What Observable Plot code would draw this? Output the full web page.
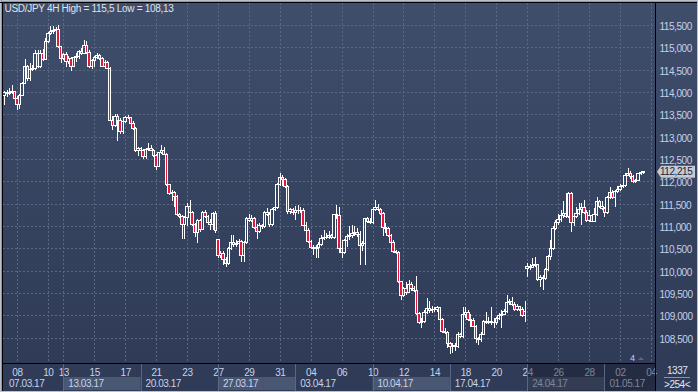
<!DOCTYPE html>
<html><head><meta charset="utf-8">
<script src="https://cdn.jsdelivr.net/npm/d3@7"></script>
<script src="https://cdn.jsdelivr.net/npm/@observablehq/plot@0.6"></script>
<style>
html,body{margin:0;padding:0;background:#2f3b57;}
#chart{width:698px;height:392px;overflow:hidden}
</style></head><body><div id="chart"></div>
<script>
// ---- data: USD/JPY 4H candles (07.03.17 04:00 -> 03.05.17 08:00) ----
const open = [
113.93,113.99,113.96,114.00,114.01,113.86,113.71,113.93,114.19,114.57,
114.31,114.51,114.53,114.87,114.57,114.87,114.73,115.13,115.31,115.35,
115.37,115.39,115.02,114.75,114.85,114.68,114.75,114.58,114.78,114.79,
114.90,114.87,115.05,114.88,114.57,114.70,114.78,114.81,114.75,114.58,
114.66,114.53,113.37,113.24,113.46,113.37,113.11,113.34,113.43,113.42,
113.30,113.19,112.70,112.73,112.69,112.55,112.72,112.73,112.70,112.57,
112.34,112.64,112.70,112.61,111.92,111.73,111.75,111.66,111.25,111.22,
111.04,111.19,111.43,111.30,111.04,110.85,111.12,110.93,111.30,111.22,
111.07,111.04,111.27,110.69,110.34,110.39,110.26,110.16,110.50,110.63,
110.58,110.61,110.66,110.34,110.63,111.16,111.13,111.17,110.96,110.87,
111.01,110.98,111.31,111.26,111.04,111.36,111.41,111.92,112.08,112.05,
111.89,111.32,111.37,111.31,111.34,111.35,111.34,111.02,110.91,110.65,
110.52,110.49,110.52,110.58,110.71,110.75,110.74,110.78,110.74,111.26,
111.23,110.50,110.41,110.68,110.76,110.78,110.84,110.86,110.80,110.56,
110.60,111.16,111.11,111.08,111.38,111.41,111.38,111.28,110.96,110.95,
110.78,110.63,110.42,110.41,109.75,109.44,109.59,109.52,109.68,109.59,
109.56,109.05,108.84,108.87,109.07,109.15,109.10,109.14,109.12,109.18,
108.90,108.64,108.62,108.36,108.30,108.33,108.30,108.57,108.52,109.03,
109.06,108.91,108.88,108.76,108.48,108.45,108.58,108.87,108.85,108.87,
108.85,108.84,108.93,108.99,109.03,109.08,109.28,109.30,109.25,109.14,
109.19,109.12,108.99,110.05,110.09,110.08,110.11,110.14,109.81,109.85,
109.82,110.02,110.31,110.50,110.95,111.08,111.14,111.24,111.27,111.22,
111.72,111.08,111.22,111.28,111.37,111.42,111.30,111.12,111.24,111.10,
111.25,111.54,111.43,111.40,111.30,111.64,111.76,111.64,111.78,111.82,
111.88,111.91,112.14,112.18,112.11,112.00,112.02,112.17,112.19];
const high = [
114.03,114.05,114.08,114.16,114.03,113.91,113.96,114.23,114.75,114.60,
114.64,114.60,114.94,114.93,114.94,114.96,115.20,115.35,115.48,115.48,
115.46,115.50,115.03,114.88,114.90,114.81,114.78,114.81,114.87,114.94,
114.98,115.16,115.15,114.93,114.73,114.81,114.87,114.84,114.78,114.72,
114.70,114.57,113.46,113.50,113.51,113.41,113.36,113.46,113.48,113.45,
113.34,113.21,112.78,112.76,112.72,112.74,112.85,112.81,112.73,112.61,
112.66,112.82,112.78,112.63,111.94,111.81,111.79,111.69,111.30,111.25,
111.22,111.51,111.58,111.33,111.07,111.15,111.15,111.33,111.36,111.25,
111.16,111.31,111.34,110.72,110.44,110.44,110.31,110.54,110.80,110.80,
110.68,110.71,110.69,110.66,111.21,111.26,111.25,111.21,111.05,111.07,
111.05,111.34,111.40,111.32,111.40,111.46,111.96,112.18,112.14,112.08,
111.92,111.41,111.40,111.44,111.46,111.43,111.40,111.08,110.95,110.69,
110.58,110.58,110.64,110.80,110.90,110.84,110.89,110.83,111.28,111.46,
111.43,110.54,110.71,110.81,110.99,111.02,110.99,110.96,110.89,110.66,
111.19,111.21,111.17,111.41,111.58,111.49,111.41,111.32,111.06,110.98,
110.81,110.68,110.46,110.44,109.78,109.64,109.75,109.79,109.74,109.66,
109.87,109.08,108.93,109.12,109.38,109.31,109.21,109.19,109.22,109.19,
108.93,108.71,108.66,108.41,108.37,108.39,108.63,108.61,109.19,109.19,
109.12,109.03,108.93,108.79,108.52,108.63,108.90,109.08,108.97,109.19,
108.93,108.97,109.05,109.12,109.14,109.46,109.36,109.42,109.30,109.25,
109.22,109.19,109.31,110.18,110.16,110.28,110.31,110.16,109.90,109.90,
110.05,110.34,110.69,110.99,111.14,111.28,111.36,111.55,111.73,111.77,
111.77,111.28,111.43,111.51,111.51,111.58,111.36,111.36,111.28,111.40,
111.66,111.58,111.55,111.43,111.67,111.88,111.81,111.81,111.90,111.93,
111.96,112.18,112.29,112.24,112.14,112.06,112.19,112.24,112.24];
const low = [
113.72,113.88,113.93,113.96,113.84,113.60,113.61,113.91,114.18,114.25,
114.25,114.48,114.49,114.53,114.53,114.70,114.72,115.10,115.28,115.30,
115.31,114.98,114.64,114.72,114.57,114.63,114.46,114.55,114.68,114.75,
114.82,114.85,114.85,114.53,114.51,114.57,114.75,114.72,114.55,114.55,
114.51,113.34,113.15,113.21,112.91,113.07,113.06,113.30,113.39,113.28,
113.16,112.66,112.57,112.64,112.51,112.51,112.69,112.67,112.54,112.25,
112.33,112.61,112.58,111.90,111.69,111.55,111.43,111.22,111.17,110.72,
110.72,111.00,111.27,111.00,110.76,110.61,110.87,110.90,111.19,111.04,
110.90,110.90,110.84,110.29,110.28,110.13,110.09,110.13,110.47,110.53,
110.52,110.53,110.19,110.20,110.60,111.08,111.10,110.93,110.72,110.84,
110.93,110.95,111.23,110.98,111.01,111.34,111.38,111.89,111.90,111.86,
111.28,111.26,111.25,111.13,111.28,111.29,110.99,110.86,110.62,110.49,
110.35,110.29,110.28,110.55,110.68,110.71,110.71,110.71,110.71,111.16,
110.39,110.28,110.37,110.52,110.68,110.74,110.78,110.76,110.13,110.43,
110.13,111.07,111.04,111.05,111.34,111.34,111.25,110.78,110.84,110.75,
110.59,110.40,110.37,109.72,109.34,109.40,109.46,109.49,109.55,109.52,
109.01,108.80,108.71,108.82,109.03,109.06,109.06,109.08,109.08,108.87,
108.60,108.58,108.26,108.13,108.15,108.21,108.26,108.49,108.49,108.93,
108.87,108.75,108.73,108.37,108.34,108.40,108.55,108.81,108.81,108.79,
108.71,108.79,108.90,108.71,109.00,109.05,109.24,109.21,109.10,109.10,
109.09,108.96,108.86,109.85,110.02,110.05,110.08,109.78,109.64,109.57,
109.79,109.99,110.24,110.46,110.91,111.02,111.09,111.19,111.19,111.19,
110.87,110.99,111.19,111.25,111.02,111.27,111.09,111.08,111.08,111.08,
111.22,111.40,111.36,111.21,111.27,111.61,111.61,111.43,111.75,111.79,
111.85,111.88,112.11,112.06,111.97,111.96,112.00,112.15,112.17];
const close = [
113.99,113.96,114.00,114.01,113.86,113.71,113.93,114.19,114.57,114.31,
114.51,114.53,114.87,114.57,114.87,114.73,115.13,115.31,115.35,115.37,
115.39,115.02,114.75,114.85,114.68,114.75,114.58,114.78,114.79,114.90,
114.87,115.05,114.88,114.57,114.70,114.78,114.81,114.75,114.58,114.66,
114.53,113.37,113.24,113.46,113.37,113.11,113.34,113.43,113.42,113.30,
113.19,112.70,112.73,112.69,112.55,112.72,112.73,112.70,112.57,112.34,
112.64,112.70,112.61,111.92,111.73,111.75,111.66,111.25,111.22,111.04,
111.19,111.43,111.30,111.04,110.85,111.12,110.93,111.30,111.22,111.07,
111.04,111.27,110.89,110.34,110.39,110.26,110.16,110.50,110.63,110.58,
110.61,110.66,110.34,110.63,111.16,111.13,111.17,110.96,110.87,111.01,
110.98,111.31,111.26,111.04,111.36,111.41,111.92,112.08,112.05,111.89,
111.32,111.37,111.31,111.34,111.35,111.34,111.02,110.91,110.65,110.52,
110.49,110.52,110.58,110.71,110.75,110.74,110.78,110.74,111.26,111.23,
110.50,110.41,110.68,110.76,110.78,110.84,110.86,110.80,110.56,110.60,
111.16,111.11,111.08,111.38,111.41,111.38,111.28,110.96,110.95,110.78,
110.63,110.42,110.41,109.75,109.44,109.59,109.52,109.68,109.59,109.56,
109.05,108.84,108.87,109.07,109.15,109.10,109.14,109.12,109.18,108.90,
108.64,108.62,108.36,108.30,108.33,108.30,108.57,108.52,109.03,109.06,
108.91,108.88,108.76,108.48,108.45,108.58,108.87,108.85,108.87,108.85,
108.84,108.93,108.99,109.03,109.08,109.28,109.30,109.25,109.14,109.19,
109.12,108.99,109.08,110.09,110.08,110.11,110.14,109.81,109.85,109.82,
110.02,110.31,110.50,110.95,111.08,111.14,111.24,111.27,111.22,111.72,
111.08,111.22,111.28,111.37,111.42,111.30,111.12,111.24,111.10,111.25,
111.54,111.43,111.40,111.30,111.64,111.76,111.64,111.78,111.82,111.88,
111.91,112.14,112.18,112.11,112.00,112.02,112.17,112.19,112.215];

const yTicks = [108.5,109,109.5,110,110.5,111,111.5,112,112.5,113,113.5,114,114.5,115,115.5];
const dayTickIndex  = [5,17,23,35,47,59,71,83,95,107,119,131,143,155,167,179,191,203,215,227,239,251];
const dayTickLabels = ["08","10","13","15","17","21","23","27","29","31","04","06","10","12","14","18","20","24","26","28","02","04"];
const weekStartIndex = [0,23,53,83,113,143,173,203,233];
const weekLabels = ["07.03.17","13.03.17","20.03.17","27.03.17","03.04.17","10.04.17","17.04.17","24.04.17","01.05.17"];
const weekHighlighted = [false,true,false,true,false,true,false,true,false];
const futureFromIndex = 203;
const titleText = "USD/JPY 4H High = 115,5 Low = 108,13";
const lastPriceLabel = "112,215";
const barCountLabel = "1337";
const rangeLabel = ">254<";
const pageLabel = "4";

// ---- build ----
const candles = close.map((c, i) => ({i, o: open[i], h: high[i], l: low[i], c}));
const dayMap = new Map(dayTickIndex.map((d, k) => [d, dayTickLabels[k]]));
const weekMap = new Map(weekStartIndex.map((d, k) => [d, weekLabels[k]]));
const fmt = v => v.toFixed(3).replace(".", ",");
const RED = "#e5173c";

const chart = Plot.plot({
  width: 698, height: 392,
  marginTop: 3, marginBottom: 29, marginLeft: 3, marginRight: 43,
  style: "background: linear-gradient(to bottom, #3f4e6b 0%, #2f3b57 92%, #2f3b57 100%); color:#c8d2e8; font-family:'Liberation Sans', Arial, sans-serif; letter-spacing:-0.45px;",
  x: {domain: [-0.39, 252.61], label: null},
  y: {domain: [107.933, 115.993], label: null},
  marks: [
    Plot.ruleY(yTicks, {stroke: "#5a6883", strokeDasharray: "2,2", shapeRendering: "crispEdges"}),
    Plot.ruleX(dayTickIndex, {stroke: "#5a6883", strokeDasharray: "2,2", shapeRendering: "crispEdges"}),
    Plot.ruleX(candles, {x: "i", y1: "h", y2: d => Math.max(d.o, d.c), stroke: "white", shapeRendering: "crispEdges"}),
    Plot.ruleX(candles, {x: "i", y1: d => Math.min(d.o, d.c), y2: "l", stroke: "white", shapeRendering: "crispEdges"}),
    Plot.rect(candles, {x1: d => d.i - 0.46, x2: d => d.i + 0.46, y1: "o", y2: "c",
      fill: d => d.c < d.o ? RED : "none", stroke: "white", shapeRendering: "crispEdges"}),
    Plot.axisY(yTicks, {anchor: "right", label: null, tickSize: 0, tickPadding: 4, tickFormat: fmt, fontSize: 10, dy: 1.4, fill: "#c6d1e8"}),
    Plot.axisX(dayTickIndex, {anchor: "bottom", label: null, tickSize: 0, tickPadding: 5, tickFormat: d => dayMap.get(d), fontSize: 10, fill: "#c8d2e8"}),
    Plot.axisX(weekStartIndex, {anchor: "bottom", label: null, tickSize: 0, tickPadding: 16, textAnchor: "start", dx: 4.5, tickFormat: d => weekMap.get(d), fontSize: 10, fill: "#c8d2e8"}),
    Plot.text([titleText], {frameAnchor: "top-left", text: d => d, dx: 1, dy: 1, textAnchor: "start", lineAnchor: "top", fill: "#dfe3ec", fontSize: 10})
  ]
});

// ---- chrome around the plot (positions from the plot's scales) ----
const svg = d3.select(chart);
svg.selectAll("text").filter(function() { return this.textContent === titleText; }).style("letter-spacing", "-0.3px");
const xs = chart.scale("x"), ys = chart.scale("y");
const X = v => xs.apply(v), Y = v => ys.apply(v);
const L = 3, R = 655, T = 3, B = 363, W = 698, H = 392;

const under = svg.insert("g", ":first-child");
under.append("rect").attr("x", 0).attr("y", B).attr("width", W).attr("height", H - B).attr("fill", "#2f3b57");
weekStartIndex.forEach((w, k) => {
  const x0 = Math.max(L, X(w));
  const x1 = k + 1 < weekStartIndex.length ? X(weekStartIndex[k + 1]) : R;
  if (weekHighlighted[k]) under.append("rect").attr("x", x0).attr("y", B + 14).attr("width", x1 - x0).attr("height", 13).attr("fill", "#4a5773");
});

const over = svg.append("g").attr("text-anchor", "start");
// dim the not-yet area in the time axis
over.append("rect").attr("x", X(futureFromIndex)).attr("y", B + 1).attr("width", R - X(futureFromIndex)).attr("height", H - B - 2)
  .attr("fill", "rgba(18,24,38,0.42)");
weekStartIndex.slice(1).forEach(w => {
  over.append("line").attr("x1", Math.round(X(w)) + 0.5).attr("x2", Math.round(X(w)) + 0.5).attr("y1", B).attr("y2", H - 1)
    .attr("stroke", "#5b6781");
});
// frame lines
const line = (x1, y1, x2, y2, c) => over.append("line").attr("x1", x1).attr("y1", y1).attr("x2", x2).attr("y2", y2).attr("stroke", c);
line(0, 0.5, W, 0.5, "#b8c0cf"); line(0, 1.5, W, 1.5, "#8d97aa");
line(0.5, 0, 0.5, H, "#b8c0cf"); line(1.5, 0, 1.5, H, "#8d97aa");
line(0, 2.5, W, 2.5, "#000"); line(2.5, 2, 2.5, H, "#000");
line(2, B + 0.5, R, B + 0.5, "#000"); line(R + 0.5, 2, R + 0.5, H, "#000");
line(0, H - 0.5, W, H - 0.5, "#b8c0cf"); line(W - 0.5, 0, W - 0.5, H, "#b8c0cf");

// last price tag
const py = Y(close[close.length - 1]);
over.append("path").attr("d", `M${R + 2},${py} L${R + 6},${py - 6} L${W - 3},${py - 6} L${W - 3},${py + 6} L${R + 6},${py + 6} Z`).attr("fill", "#c6cad3");
over.append("text").attr("x", R + 5).attr("y", py + 3.6).attr("text-anchor", "start").attr("font-size", 10).attr("fill", "#1d2538").text(lastPriceLabel);

// bottom-right counters
over.append("text").attr("x", R + 12).attr("y", B + 10.5).attr("text-anchor", "start").attr("font-size", 10).attr("fill", "#e4e7ee").text(barCountLabel);
line(R + 9, B + 14.5, W - 8, B + 14.5, "#8a93a6");
over.append("text").attr("x", R + 9).attr("y", B + 24.5).attr("text-anchor", "start").attr("font-size", 10).attr("fill", "#e4e7ee").text(rangeLabel);

// page marker inside the plot
over.append("text").attr("x", R - 25).attr("y", B - 2).attr("text-anchor", "start").attr("font-size", 9).attr("fill", "#c8d0e0").text(pageLabel);
over.append("path").attr("d", `M${R - 17},${B - 3} L${R - 14},${B - 6} L${R - 11},${B - 3} Z`).attr("fill", "#5d677c");

document.getElementById("chart").appendChild(chart);
</script>
</body></html>
